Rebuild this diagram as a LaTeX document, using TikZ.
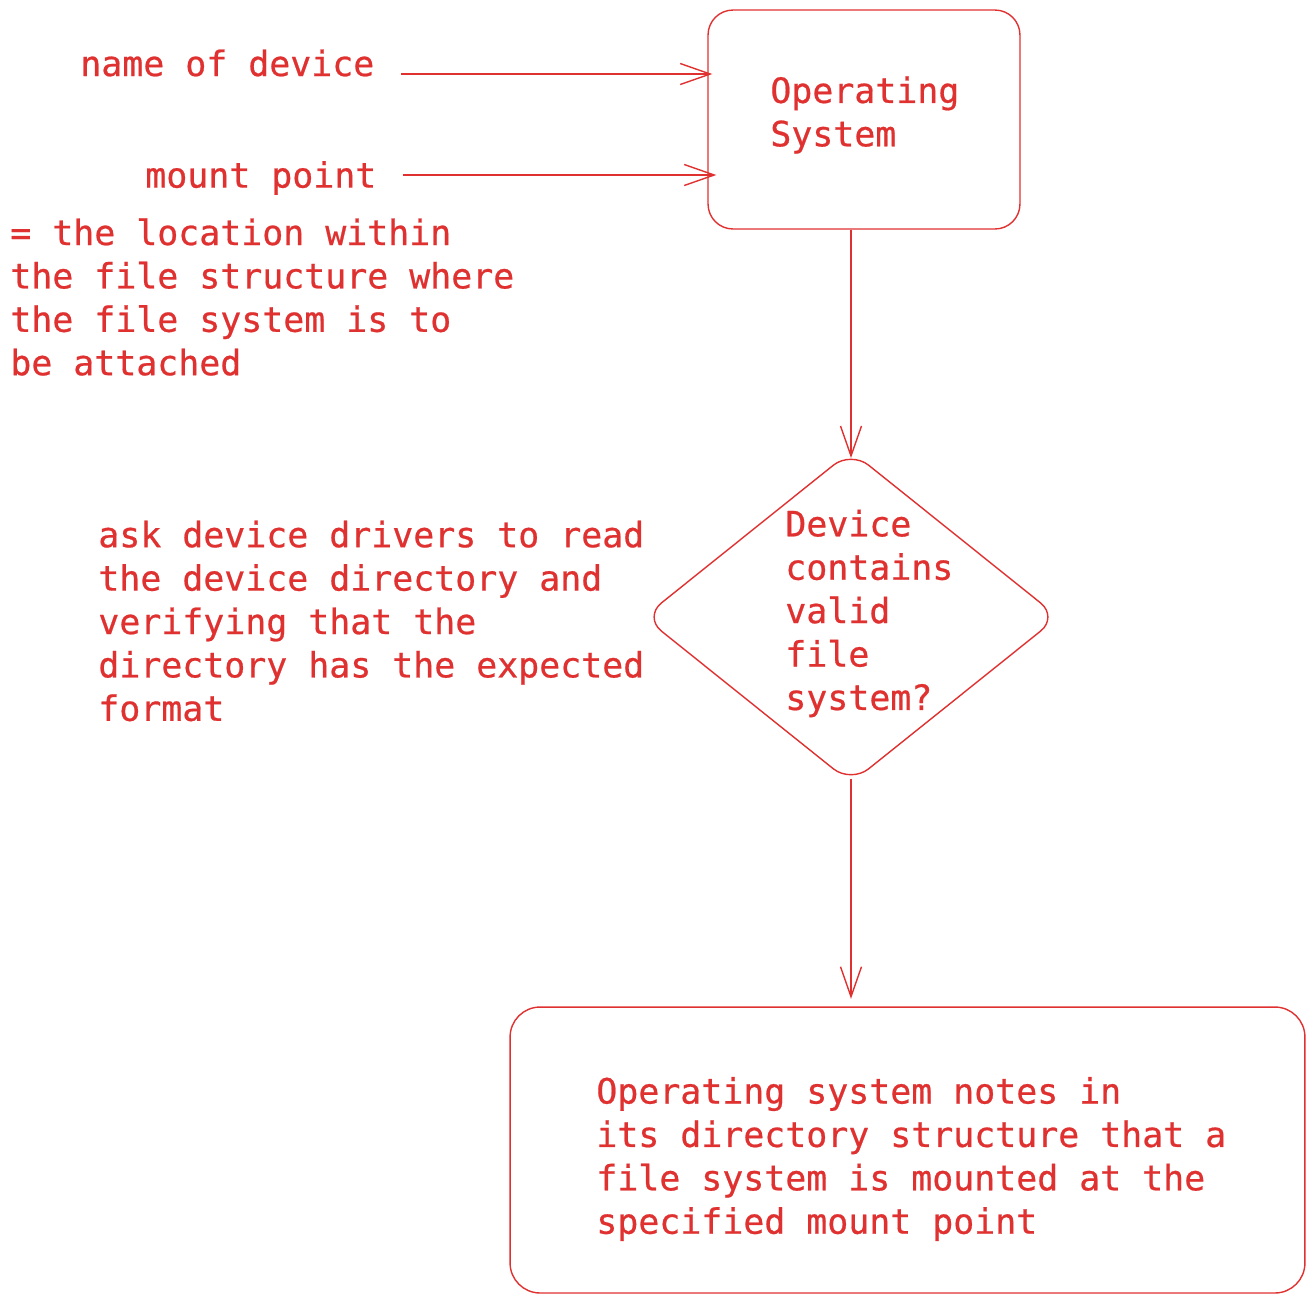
\documentclass[tikz,border=0pt]{standalone}
\usepackage{fontspec}
\newfontfamily\sketchfont[FakeBold=0.6]{DejaVu Sans Mono}
\usetikzlibrary{arrows.meta, positioning, shapes.geometric}
\definecolor{sketchred}{HTML}{E03131}
\tikzset{
  txt/.style={font=\sketchfont\fontsize{19.85}{24.7}\selectfont, text=sketchred, align=left, inner sep=0pt},
  box/.style={draw=sketchred, line width=0.8pt, rounded corners=0.5cm},
  arr/.style={draw=sketchred, line width=0.8pt, -{Straight Barb[length=0.6cm, width=0.42cm]}},
}
\begin{document}
\begin{tikzpicture}[x=0.02cm, y=-0.02cm]
% mount flow
\useasboundingbox (0,0) rectangle (1315,1303);

\node[box, minimum width=6.24cm, minimum height=4.38cm] (os) at (864,119.5) {};
\node[txt, anchor=west] (ostext) at (770,115) {Operating\\System};

\node[box, diamond, rounded corners=0.45cm, minimum width=8.3cm, minimum height=6.65cm] (dia) at (851,617) {};
\node[txt, anchor=west] (diatext) at (785,613.5) {Device\\contains\\valid\\file\\system?};

\node[box, rounded corners=0.6cm, minimum width=15.9cm, minimum height=5.72cm] (res) at (907.5,1150) {};
\node[txt, anchor=west] (restext) at (596,1159) {Operating system notes in\\its directory structure that a\\file system is mounted at the\\specified mount point};

\node[txt, anchor=west] (devname) at (80,63) {name of device};
\node[txt, anchor=west] (mntpt) at (145,178) {mount point};
\node[txt, anchor=west] (mntnote) at (10,297) {= the location within\\the file structure where\\the file system is to\\be attached};
\node[txt, anchor=west] (ask) at (98,621) {ask device drivers to read\\the device directory and\\verifying that the\\directory has the expected\\format};

\coordinate (in1) at (401,74);
\coordinate (in2) at (403,175);
\draw[arr] (in1) -- ([xshift=0.1cm]in1 -| os.west);
\draw[arr] (in2) -- ([xshift=0.18cm]in2 -| os.west);
\draw[arr] (dia.north |- os.south) -- ([yshift=-0.16cm]dia.north);
\draw[arr, shorten >=0.15cm] ([yshift=0.1cm]dia.south) -- (dia.south |- res.north);
\end{tikzpicture}
\end{document}
